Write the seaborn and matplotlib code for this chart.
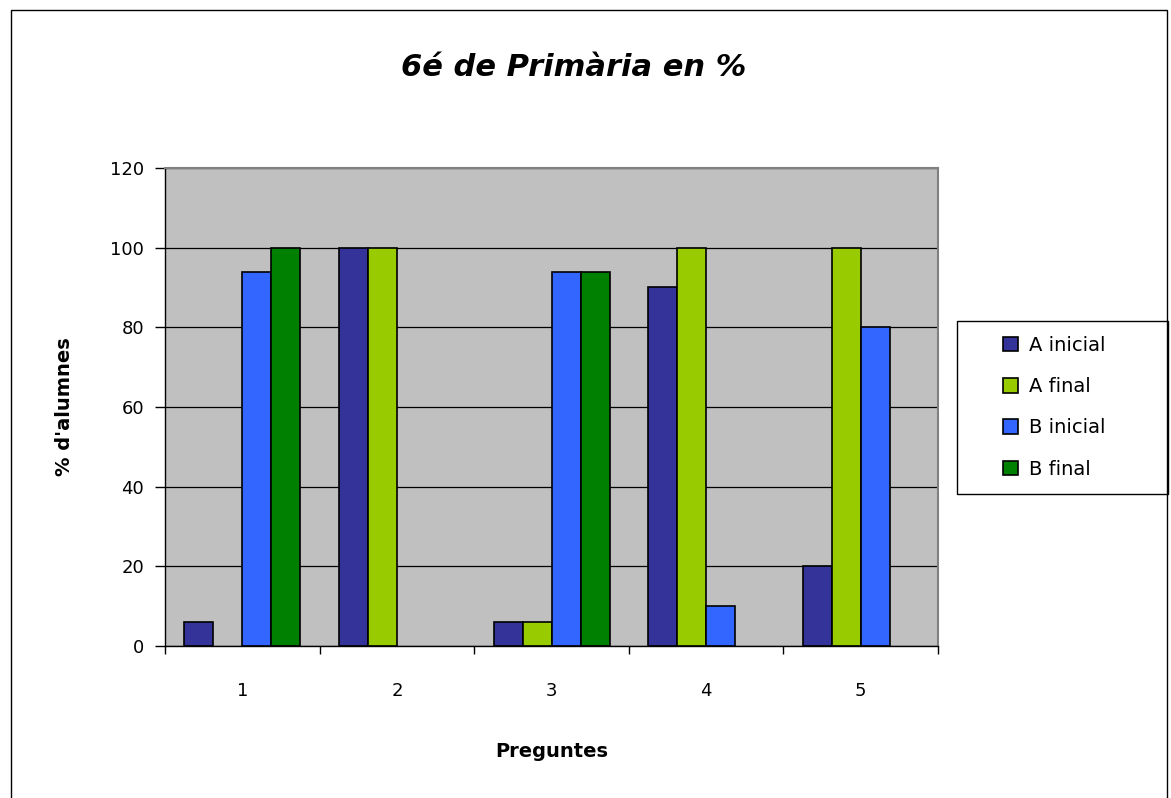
import matplotlib
matplotlib.use("Agg")
import matplotlib.pyplot as plt
import seaborn as sns
import pandas as pd
from matplotlib.patches import Rectangle, Patch
from matplotlib.ticker import FixedLocator

preguntes = ["1", "2", "3", "4", "5"]
series = ["A inicial", "A final", "B inicial", "B final"]
a_inicial = [6, 100, 6, 90, 20]
a_final = [0, 100, 6, 100, 100]
b_inicial = [94, 0, 94, 10, 80]
b_final = [100, 0, 94, 0, 0]
colors = ["#333399", "#99CC00", "#3366FF", "#008000"]

rows = []
for name, vals in zip(series, [a_inicial, a_final, b_inicial, b_final]):
    for q, v in zip(preguntes, vals):
        rows.append({"Pregunta": q, "Serie": name, "Valor": v})
df = pd.DataFrame(rows)

sns.set_theme(style="white")
plt.rcParams["font.family"] = ["DejaVu Sans"]
plt.rcParams["text.color"] = "black"
plt.rcParams["axes.labelcolor"] = "black"
plt.rcParams["xtick.color"] = "black"
plt.rcParams["ytick.color"] = "black"

fig = plt.figure(figsize=(11.71, 7.98), dpi=100)
ax = fig.add_axes([0.141, 0.1905, 0.660, 0.599])
ax.set_facecolor("#C0C0C0")

sns.barplot(data=df, x="Pregunta", y="Valor", hue="Serie", order=preguntes,
            hue_order=series, palette=colors, width=0.75, saturation=1,
            edgecolor="black", linewidth=1.2, ax=ax, errorbar=None, legend=False)

# Empty bars get no outline
for p in ax.patches:
    if p.get_height() == 0:
        p.set_visible(False)

ax.set_ylim(0, 120)
ax.set_xlim(-0.5, 4.5)
ax.set_yticks(range(0, 121, 20))
ax.yaxis.grid(True, color="black", linewidth=0.9)
ax.set_axisbelow(True)
ax.tick_params(axis="y", length=7, width=1, color="black", labelsize=13, pad=8, left=True)
ax.tick_params(axis="x", which="major", length=0, labelsize=13, pad=26)
ax.xaxis.set_minor_locator(FixedLocator([-0.5, 0.5, 1.5, 2.5, 3.5, 4.5]))
ax.tick_params(axis="x", which="minor", length=6, width=1, color="black", bottom=True)

for s in ["left", "bottom"]:
    ax.spines[s].set_color("black")
    ax.spines[s].set_linewidth(1)
for s in ["top", "right"]:
    ax.spines[s].set_color("#808080")
    ax.spines[s].set_linewidth(1.5)

ax.set_xlabel("Preguntes", fontsize=14, fontweight="bold", labelpad=30)
ax.set_ylabel("% d'alumnes", fontsize=14, fontweight="bold", labelpad=26)
fig.text(0.49, 0.915, "6é de Primària en %", ha="center", va="center",
         fontsize=22, fontweight="bold", fontstyle="italic")

# Legend box
fig.patches.append(Rectangle((957 / 1171, 1 - 494 / 798), 211 / 1171, 173 / 798,
                             transform=fig.transFigure, facecolor="white",
                             edgecolor="black", linewidth=1, zorder=1))
handles = [Patch(facecolor=c, edgecolor="black", linewidth=1.2) for c in colors]
leg = fig.legend(handles, series, loc="upper left",
                 bbox_to_anchor=(993 / 1171, 1 - 326 / 798),
                 frameon=False, fontsize=14, handlelength=0.8, handleheight=0.8,
                 labelspacing=1.15, borderpad=0, handletextpad=0.55)

fig.patches.append(Rectangle((0.009, -0.01), 0.988, 0.998, transform=fig.transFigure,
                             fill=False, edgecolor="black", linewidth=1))

fig.savefig("out.png", dpi=100, facecolor="white")
